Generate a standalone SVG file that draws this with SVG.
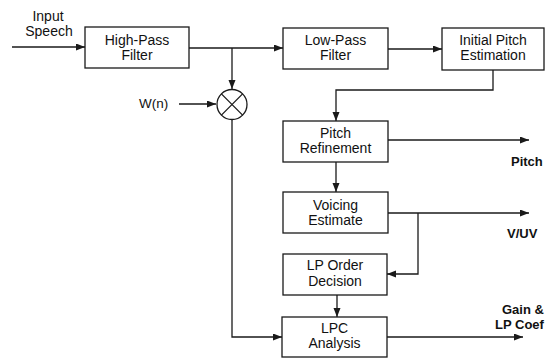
<svg xmlns="http://www.w3.org/2000/svg" width="545" height="359" viewBox="0 0 545 359">
  <style>
    .box { fill: #ffffff; stroke: #1a1a1a; stroke-width: 1.3; }
    .wire { fill: none; stroke: #1a1a1a; stroke-width: 1.3; }
    .t { font-family: "Liberation Sans", Arial, sans-serif; font-size: 14px; fill: #111; text-anchor: middle; }
    .lbl { font-family: "Liberation Sans", Arial, sans-serif; font-size: 13.5px; fill: #111; }
    .out { font-family: "Liberation Sans", Arial, sans-serif; font-size: 13px; font-weight: bold; fill: #111; }
  </style>
  <defs>
    <marker id="arrow" markerUnits="userSpaceOnUse" markerWidth="10" markerHeight="8" refX="9" refY="3.5" orient="auto">
      <path d="M0,0 L9,3.5 L0,7 z" fill="#1a1a1a"/>
    </marker>
  </defs>

  <rect width="545" height="359" fill="#ffffff"/>

  <!-- connectors -->
  <g id="connectors">
    <line class="wire" x1="12" y1="47" x2="85" y2="47" marker-end="url(#arrow)"/>
    <line class="wire" x1="189" y1="48" x2="283" y2="48" marker-end="url(#arrow)"/>
    <line class="wire" x1="232" y1="48" x2="232" y2="89" marker-end="url(#arrow)"/>
    <line class="wire" x1="179" y1="104" x2="216" y2="104" marker-end="url(#arrow)"/>
    <polyline class="wire" points="232,119.5 232,337 282,337" marker-end="url(#arrow)"/>
    <line class="wire" x1="388" y1="49" x2="442" y2="49" marker-end="url(#arrow)"/>
    <polyline class="wire" points="493,70 493,90 336,90 336,121" marker-end="url(#arrow)"/>
    <line class="wire" x1="336" y1="162" x2="336" y2="192" marker-end="url(#arrow)"/>
    <line class="wire" x1="388" y1="140" x2="529" y2="140" marker-end="url(#arrow)"/>
    <line class="wire" x1="388" y1="213" x2="529" y2="213" marker-end="url(#arrow)"/>
    <polyline class="wire" points="418,213 418,274 387,274" marker-end="url(#arrow)"/>
    <line class="wire" x1="337" y1="295" x2="337" y2="317" marker-end="url(#arrow)"/>
    <line class="wire" x1="387" y1="337" x2="523" y2="337" marker-end="url(#arrow)"/>
  </g>

  <!-- free labels -->
  <g id="input-label">
    <text class="t" x="48" y="21">Input</text>
    <text class="t" x="49" y="36">Speech</text>
  </g>
  <g id="wn-label">
    <text class="lbl" x="139" y="108">W(n)</text>
  </g>

  <g id="high-pass">
    <rect class="box" x="85" y="27" width="104" height="41"/>
    <text class="t" x="137" y="45">High-Pass</text>
    <text class="t" x="137" y="60">Filter</text>
  </g>

  <g id="mixer">
    <circle class="box" cx="232" cy="104.5" r="15"/>
    <path class="wire" d="M221.4,93.9 L242.6,115.1 M242.6,93.9 L221.4,115.1"/>
  </g>

  <g id="low-pass">
    <rect class="box" x="283" y="28" width="105" height="41"/>
    <text class="t" x="335.5" y="45">Low-Pass</text>
    <text class="t" x="335.5" y="60">Filter</text>
  </g>

  <g id="initial-pitch">
    <rect class="box" x="442" y="28" width="102" height="42"/>
    <text class="t" x="493" y="45">Initial Pitch</text>
    <text class="t" x="493" y="60">Estimation</text>
  </g>

  <g id="pitch-refinement">
    <rect class="box" x="283" y="121" width="105" height="41"/>
    <text class="t" x="335.5" y="138">Pitch</text>
    <text class="t" x="335.5" y="153">Refinement</text>
  </g>

  <g id="voicing">
    <rect class="box" x="283" y="192" width="105" height="41"/>
    <text class="t" x="335.5" y="210">Voicing</text>
    <text class="t" x="335.5" y="225">Estimate</text>
  </g>

  <g id="lp-order">
    <rect class="box" x="283" y="254" width="104" height="41"/>
    <text class="t" x="335" y="270">LP Order</text>
    <text class="t" x="335" y="286">Decision</text>
  </g>

  <g id="lpc-analysis">
    <rect class="box" x="282" y="317" width="105" height="40"/>
    <text class="t" x="334.5" y="333">LPC</text>
    <text class="t" x="334.5" y="348">Analysis</text>
  </g>

  <g id="outputs">
    <text class="out" x="511" y="166">Pitch</text>
    <text class="out" x="507" y="238">V/UV</text>
    <text class="out" x="502" y="314">Gain &amp;</text>
    <text class="out" x="495" y="329">LP Coef</text>
  </g>
</svg>
